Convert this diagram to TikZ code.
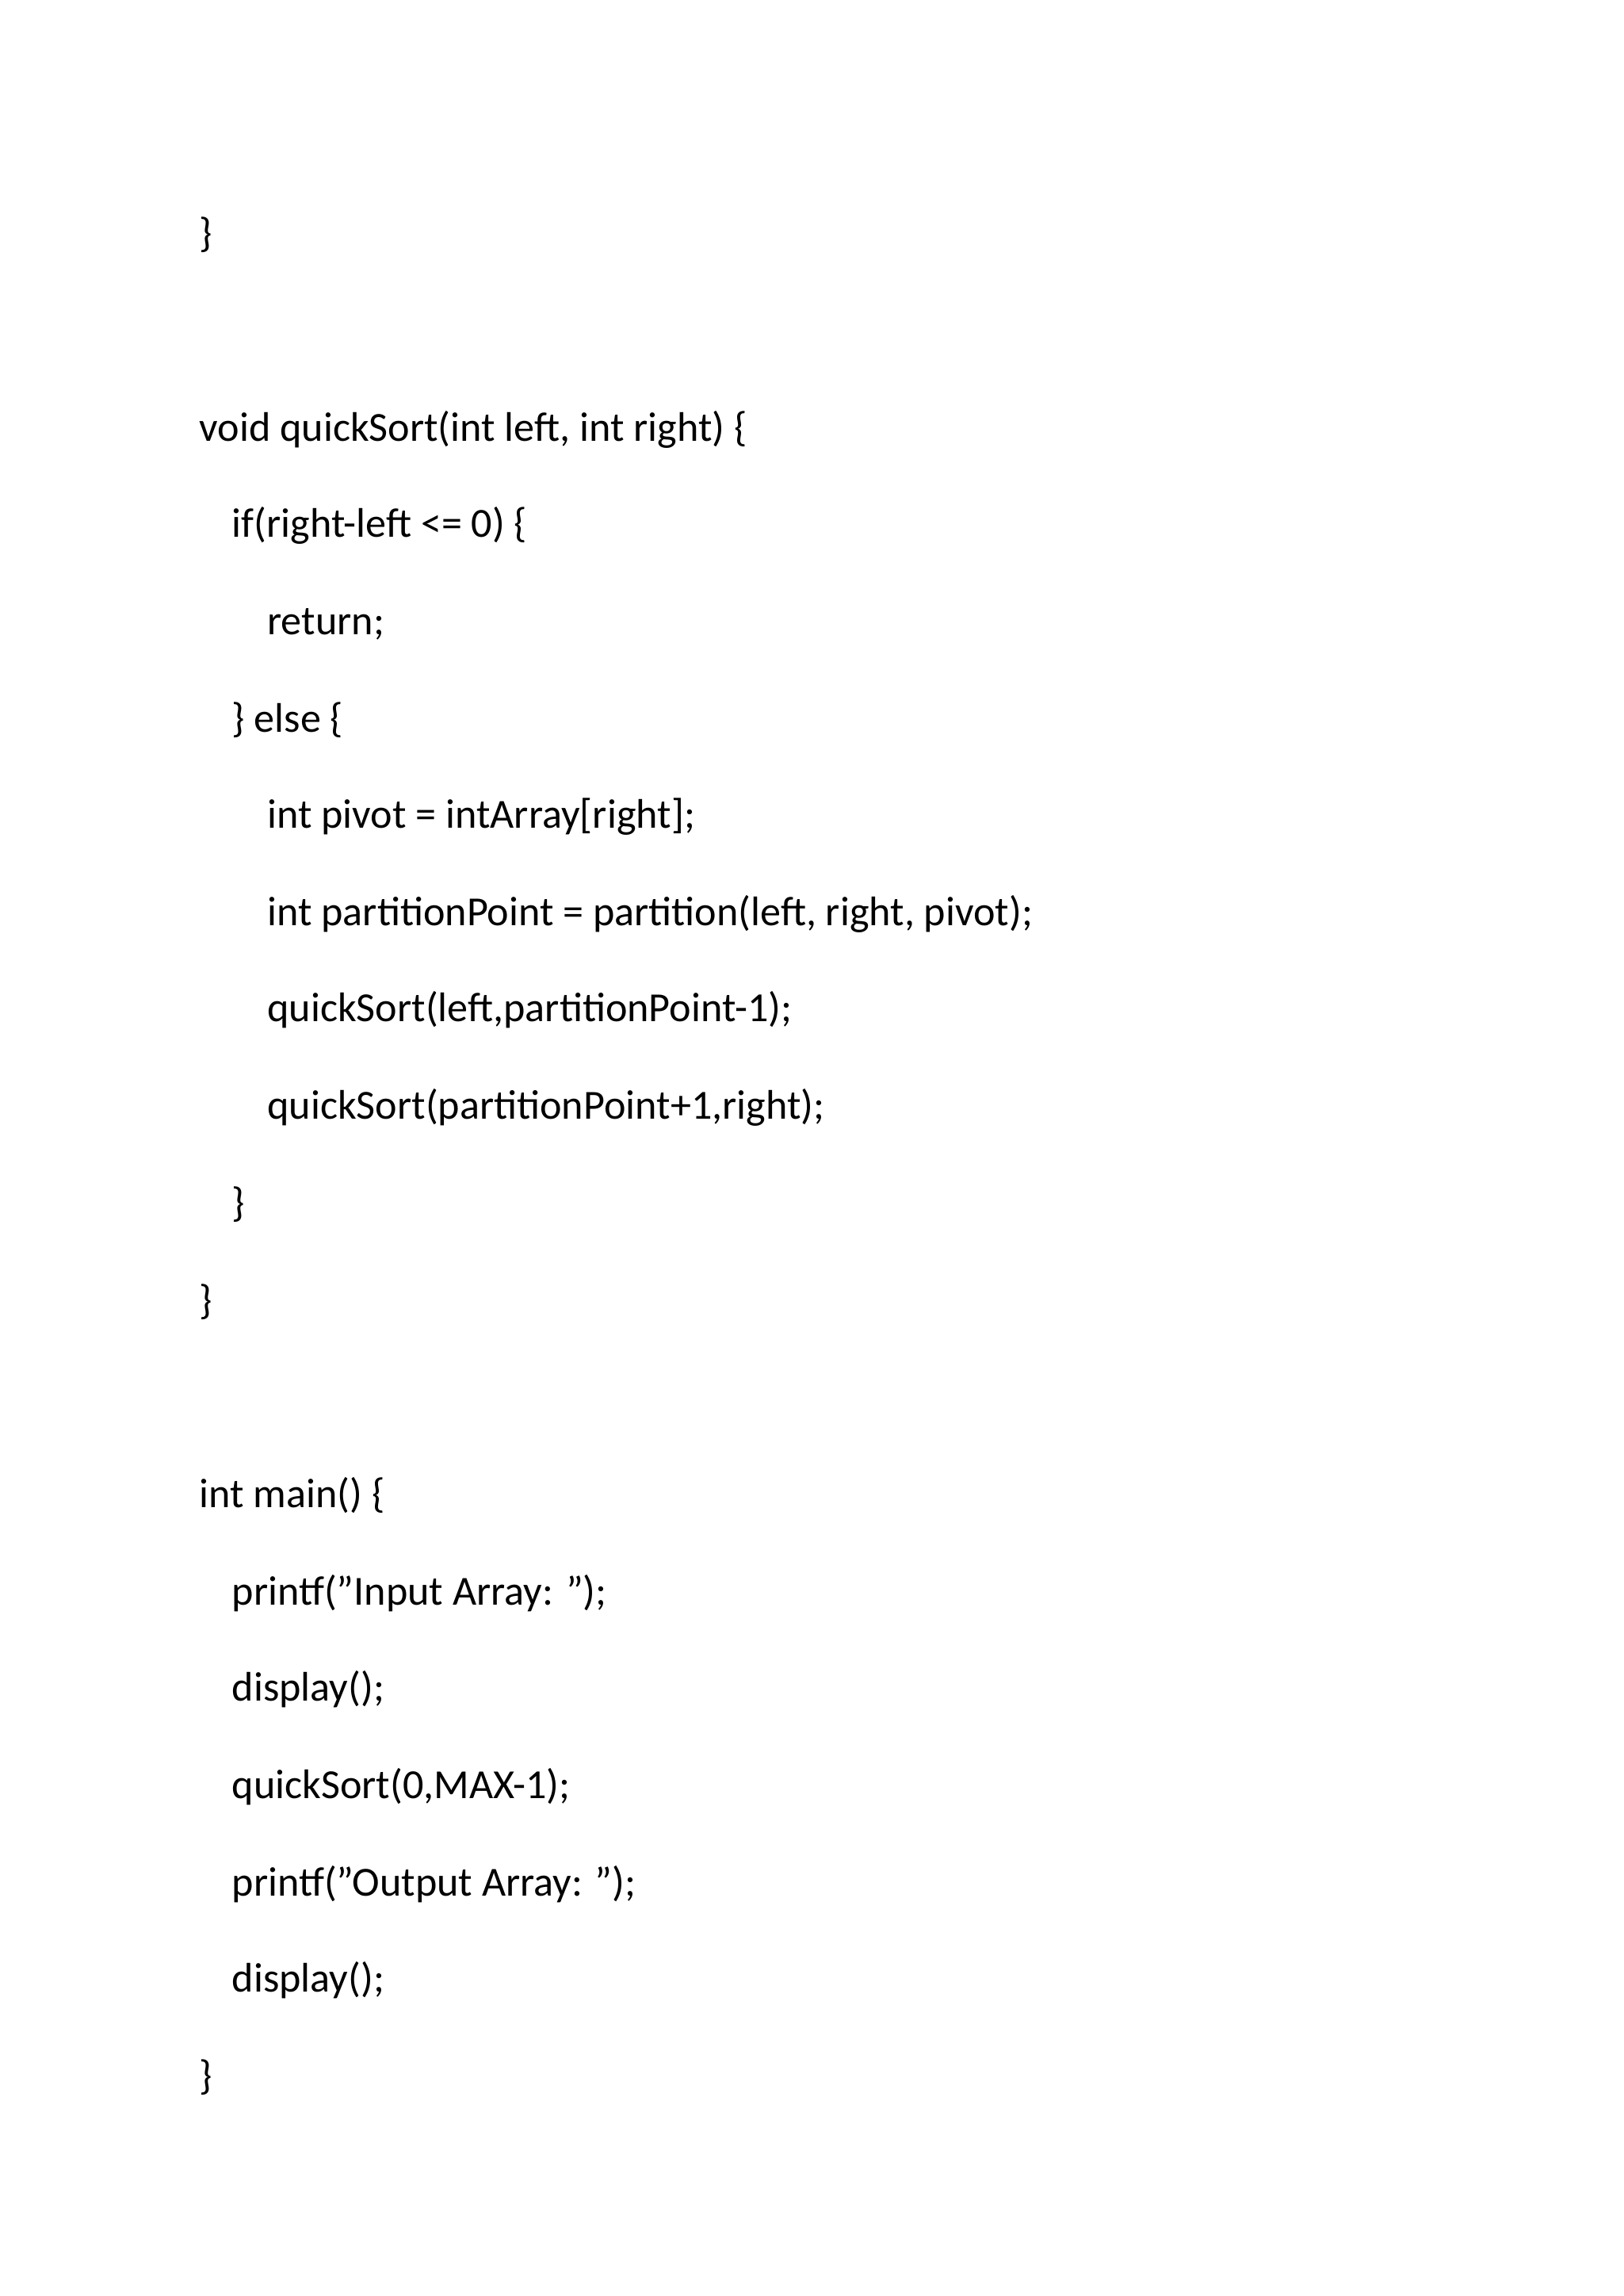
\documentclass[tikz,border=0pt]{standalone}
\usepackage{fontspec}
\setmainfont{Carlito}
\begin{document}
\begin{tikzpicture}[x=1pt,y=1pt,every node/.style={anchor=base west,inner sep=0pt,font=\fontsize{28}{32}\selectfont}]
\useasboundingbox[fill=white] (0,0) rectangle (1100,-1555);
\def\L#1#2#3#4{\node (#1) at (#2,-#3-10) {#4};}
\L{a}{135}{157}{\}}
\L{b}{135}{289}{void quickSort(int left, int right) \{}
\L{c}{157}{354}{if(right-left <= 0) \{}
\L{d}{181}{420}{return;}
\L{e}{157}{486}{\} else \{}
\L{f}{181}{551}{int pivot = intArray[right];}
\L{g}{181}{617}{int partitionPoint = partition(left, right, pivot);}
\L{h}{181}{682}{quickSort(left,partitionPoint-1);}
\L{i}{181}{748}{quickSort(partitionPoint+1,right);}
\L{j}{157}{814}{\}}
\L{k}{135}{880}{\}}
\L{l}{135}{1011}{int main() \{}
\L{m}{157}{1077}{printf("Input Array: ");}
\L{n}{157}{1142}{display();}
\L{o}{157}{1208}{quickSort(0,MAX-1);}
\L{p}{157}{1274}{printf("Output Array: ");}
\L{q}{157}{1339}{display();}
\L{r}{135}{1405}{\}}
\end{tikzpicture}
\end{document}
